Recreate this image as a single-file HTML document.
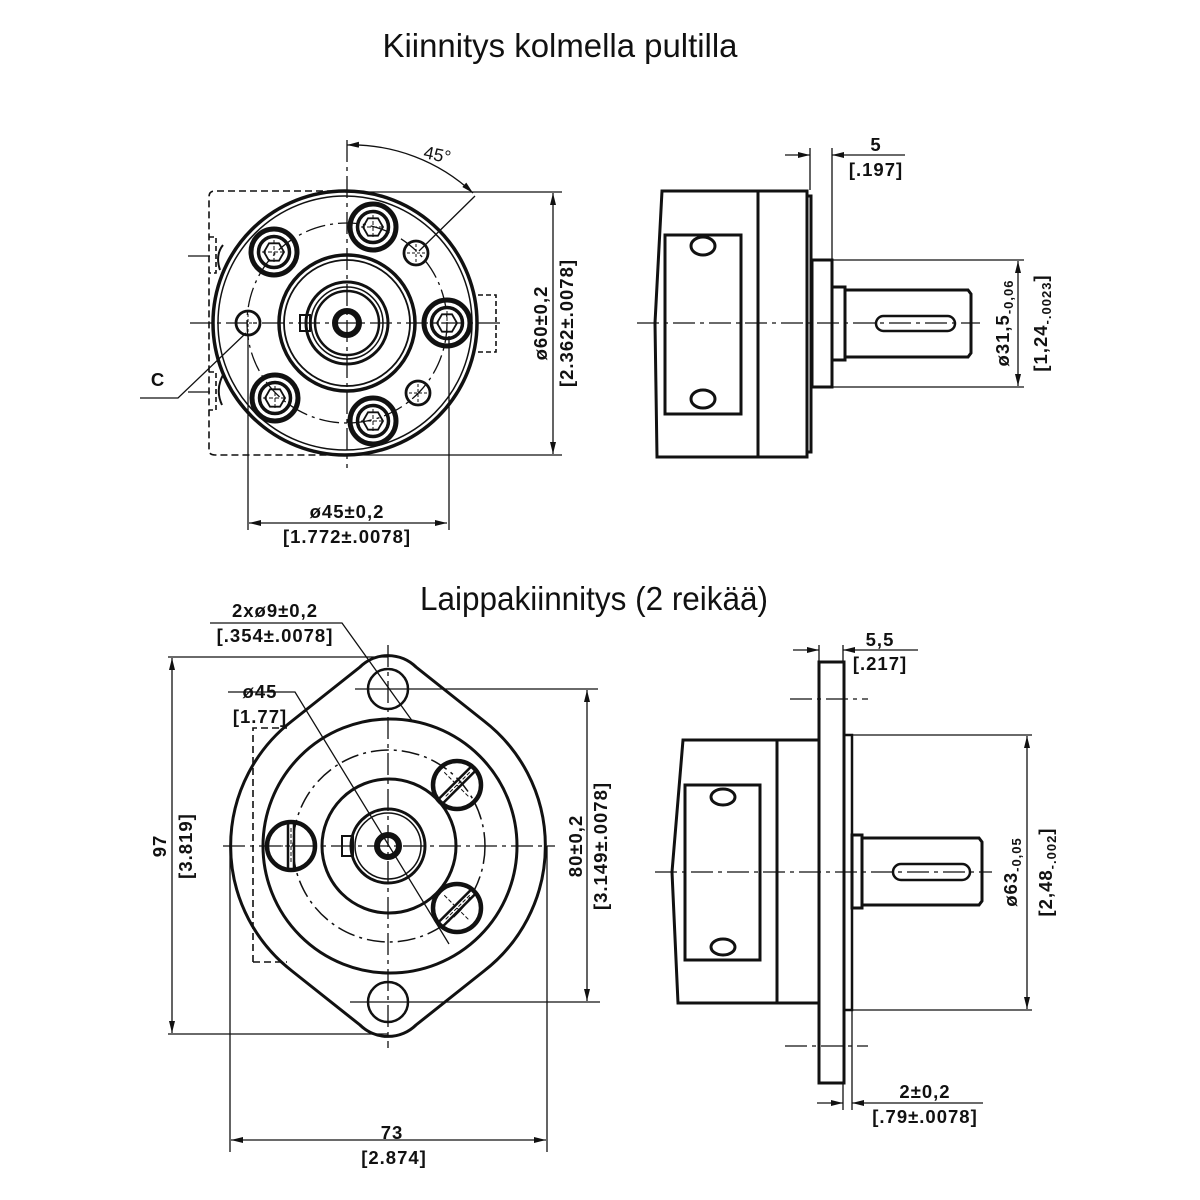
<!DOCTYPE html>
<html><head><meta charset="utf-8"><style>
html,body{margin:0;padding:0;background:#fff}
svg{display:block}
text{font-family:"Liberation Sans",sans-serif;fill:#111}
.d{font-size:18.5px;font-weight:bold;letter-spacing:1px}
</style></head><body>
<svg width="1200" height="1200" viewBox="0 0 1200 1200" xmlns="http://www.w3.org/2000/svg">
<defs>
<marker id="a" viewBox="0 0 12 6" refX="12" refY="3" markerWidth="12" markerHeight="6" orient="auto-start-reverse" markerUnits="userSpaceOnUse"><path d="M0,0 L12,3 L0,6 Z" fill="#111"/></marker>
<g id="bolt">
<circle r="23" fill="none" stroke="#111" stroke-width="5"/>
<circle r="15.5" fill="none" stroke="#111" stroke-width="3.5"/>
<polygon points="10,0 5,8.7 -5,8.7 -10,0 -5,-8.7 5,-8.7" fill="none" stroke="#111" stroke-width="1.8"/>
<path d="M-12,0H12M0,-12V12" stroke="#111" stroke-width="1" stroke-dasharray="4,2"/>
</g>
<g id="sbolt">
<circle r="12" fill="none" stroke="#111" stroke-width="2.8"/>
<path d="M-9,0H9M0,-9V9" stroke="#111" stroke-width="1" stroke-dasharray="3,2"/>
</g>
<g id="fbolt">
<circle r="24" fill="none" stroke="#111" stroke-width="4.5"/>
<path d="M-3,-23V23M3,-23V23" stroke="#111" stroke-width="2.5"/>
<path d="M-18,0H18M0,-18V18" stroke="#111" stroke-width="1" stroke-dasharray="4,2"/>
</g>
</defs>

<text x="560" y="57" font-size="33" text-anchor="middle" textLength="355" lengthAdjust="spacingAndGlyphs">Kiinnitys kolmella pultilla</text>
<text x="594" y="610" font-size="33" text-anchor="middle" textLength="348" lengthAdjust="spacingAndGlyphs">Laippakiinnitys (2 reikää)</text>

<!-- ================= TOP LEFT ================= -->
<g fill="none" stroke="#111">
<path d="M345,191 H215 Q209,191 209,197 V450 Q209,455 215,455 H345" stroke-width="1.6" stroke-dasharray="7,4"/>
<path d="M209,237 H216 V273 H209 M209,372 H216 V410 H209" stroke-width="1.6" stroke-dasharray="5,3"/>
<path d="M478,295 H496 V352 H478" stroke-width="1.6" stroke-dasharray="5,3"/>
<circle cx="345" cy="323" r="132" stroke-width="3.5"/>
<circle cx="345" cy="323" r="127" stroke-width="1.5"/>
<circle cx="347" cy="323" r="100" stroke-width="1.3" stroke-dasharray="20,5,3,5"/>
<circle cx="347" cy="323" r="68" stroke-width="3.5"/>
<circle cx="347" cy="323" r="63" stroke-width="1.8"/>
<circle cx="347" cy="323" r="41" stroke-width="3"/>
<circle cx="347" cy="323" r="36" stroke-width="1.5"/>
<circle cx="347" cy="323" r="32" stroke-width="2.5"/>
<circle cx="347" cy="323" r="12" stroke-width="6"/>
<rect x="300" y="315" width="10" height="16" stroke-width="2"/>
<path d="M223,245 Q215,255 220,270 M223,375 Q215,390 222,405" stroke-width="2"/>
</g>
<use href="#bolt" x="373" y="227"/>
<use href="#bolt" x="274" y="252"/>
<use href="#bolt" x="275" y="398"/>
<use href="#bolt" x="373" y="421"/>
<use href="#bolt" x="447" y="323"/>
<use href="#sbolt" x="416" y="253"/>
<use href="#sbolt" x="418" y="393"/>
<use href="#sbolt" x="248" y="323"/>
<g stroke="#111" fill="none" stroke-width="1.3">
<path d="M190,323 H505" stroke-dasharray="22,5,4,5"/>
<path d="M347,140 V468" stroke-dasharray="22,5,4,5"/>
<path d="M188,256 H210 M188,392 H210"/>
<path d="M347,145 A178,178 0 0 1 473,193" marker-start="url(#a)" marker-end="url(#a)"/>
<path d="M419,251 L475,196"/>
<path d="M140,398 H178 L246,333"/>
<path d="M345,192 H562 M345,455 H562"/>
<path d="M553,193 V454" marker-start="url(#a)" marker-end="url(#a)"/>
<path d="M248,336 V530 M449,336 V530"/>
<path d="M249,523 H447" marker-start="url(#a)" marker-end="url(#a)"/>
</g>
<text x="424" y="158" font-size="18" transform="rotate(12 424 152)">45°</text>
<text x="158" y="386" class="d" text-anchor="middle" font-size="21">C</text>
<text class="d" transform="translate(547,323) rotate(-90)" text-anchor="middle">ø60±0,2</text>
<text class="d" transform="translate(573,323) rotate(-90)" text-anchor="middle">[2.362±.0078]</text>
<text class="d" x="347" y="518" text-anchor="middle">ø45±0,2</text>
<text class="d" x="347" y="543" text-anchor="middle">[1.772±.0078]</text>

<!-- ================= TOP RIGHT ================= -->
<g fill="none" stroke="#111" stroke-width="3">
<path d="M662,191 H807 V457 H657 L655,323 Z"/>
<path d="M758,191 V457"/>
<path d="M808,196 H811 V452 H808"/>
<rect x="665" y="235" width="76" height="179"/>
<ellipse cx="703" cy="246" rx="12" ry="9"/>
<ellipse cx="703" cy="399" rx="12" ry="9"/>
<rect x="812" y="260" width="20" height="127"/>
<rect x="832" y="287" width="13" height="73"/>
<path d="M845,290 H968 L971,294 V353 L968,357 H845"/>
<rect x="876" y="316" width="79" height="15" rx="7.5" stroke-width="2.5"/>
</g>
<g stroke="#111" fill="none" stroke-width="1.3">
<path d="M637,323 H980" stroke-dasharray="22,5,4,5"/>
<path d="M810,148 V190 M832,148 V260"/>
<path d="M785,155 H810" marker-end="url(#a)"/>
<path d="M905,155 H832" marker-end="url(#a)"/>
<path d="M832,260 H1024 M832,387 H1024"/>
<path d="M1018,261 V386" marker-start="url(#a)" marker-end="url(#a)"/>
</g>
<text class="d" x="876" y="151" text-anchor="middle">5</text>
<text class="d" x="876" y="176" text-anchor="middle">[.197]</text>
<text class="d" transform="translate(1009,323) rotate(-90)" text-anchor="middle">ø31,5<tspan font-size="13" dy="4">-0,06</tspan></text>
<text class="d" transform="translate(1047,323) rotate(-90)" text-anchor="middle">[1,24<tspan font-size="13" dy="4">-.0023</tspan><tspan dy="-4">]</tspan></text>

<!-- ================= BOTTOM LEFT ================= -->
<g fill="none" stroke="#111">
<path d="M253,962 V728 H287" stroke-width="1.6" stroke-dasharray="7,4"/>
<path d="M253,962 H287" stroke-width="1.6" stroke-dasharray="7,4"/>
<path d="M292,721 A158,158 0 0 0 292,971 L360,1025 A40,40 0 0 0 416,1025 L484,971 A158,158 0 0 0 484,721 L416,667 A40,40 0 0 0 360,667 Z" stroke-width="3"/>
<circle cx="390" cy="846" r="127" stroke-width="3"/>
<circle cx="389" cy="846" r="96" stroke-width="1.5" stroke-dasharray="18,5,3,5"/>
<circle cx="389" cy="846" r="67" stroke-width="3"/>
<circle cx="388" cy="846" r="37" stroke-width="3"/>
<circle cx="388" cy="846" r="33" stroke-width="1.5"/>
<circle cx="388" cy="846" r="11" stroke-width="6"/>
<rect x="342" y="836" width="11" height="20" stroke-width="2"/>
<circle cx="388" cy="689" r="20" stroke-width="2.5"/>
<circle cx="388" cy="1002" r="20" stroke-width="2.5"/>
</g>
<use href="#fbolt" x="291" y="846"/>
<use href="#fbolt" x="457" y="785" transform="rotate(45 457 785)"/>
<use href="#fbolt" x="457" y="908" transform="rotate(45 457 908)"/>
<g stroke="#111" fill="none" stroke-width="1.3">
<path d="M223,846 H555" stroke-dasharray="22,5,4,5"/>
<path d="M388,645 V1048" stroke-dasharray="22,5,4,5"/>
<path d="M355,689 H598 M350,1002 H600"/>
<path d="M587,690 V1001" marker-start="url(#a)" marker-end="url(#a)"/>
<path d="M168,657 H388 M168,1034 H388"/>
<path d="M172,658 V1033" marker-start="url(#a)" marker-end="url(#a)"/>
<path d="M230,846 V1152 M547,846 V1152"/>
<path d="M231,1140 H546" marker-start="url(#a)" marker-end="url(#a)"/>
<path d="M210,623 H342 L413,722"/>
<path d="M228,692 H295 L449,944"/>
</g>
<text class="d" x="275" y="617" text-anchor="middle">2xø9±0,2</text>
<text class="d" x="275" y="642" text-anchor="middle">[.354±.0078]</text>
<text class="d" x="260" y="698" text-anchor="middle">ø45</text>
<text class="d" x="260" y="723" text-anchor="middle">[1.77]</text>
<text class="d" transform="translate(166,846) rotate(-90)" text-anchor="middle">97</text>
<text class="d" transform="translate(192,846) rotate(-90)" text-anchor="middle">[3.819]</text>
<text class="d" transform="translate(582,846) rotate(-90)" text-anchor="middle">80±0,2</text>
<text class="d" transform="translate(607,846) rotate(-90)" text-anchor="middle">[3.149±.0078]</text>
<text class="d" x="392" y="1139" text-anchor="middle">73</text>
<text class="d" x="394" y="1164" text-anchor="middle">[2.874]</text>

<!-- ================= BOTTOM RIGHT ================= -->
<g fill="none" stroke="#111" stroke-width="3">
<path d="M683,740 H819 V1003 H678 L672,872 Z"/>
<path d="M777,740 V1003"/>
<rect x="819" y="662" width="25" height="421"/>
<rect x="685" y="785" width="75" height="175"/>
<ellipse cx="723" cy="797" rx="12" ry="8"/>
<ellipse cx="723" cy="947" rx="12" ry="8"/>
<rect x="844" y="735" width="8" height="275" stroke-width="2.5"/>
<rect x="852" y="835" width="10" height="73"/>
<path d="M862,838 H979 L982,842 V901 L979,905 H862"/>
<rect x="893" y="864" width="77" height="16" rx="8" stroke-width="2.5"/>
</g>
<g stroke="#111" fill="none" stroke-width="1.3">
<path d="M655,872 H992" stroke-dasharray="22,5,4,5"/>
<path d="M790,699 H868 M785,1046 H868" stroke-dasharray="22,5,4,5"/>
<path d="M819,645 V662 M843,645 V662"/>
<path d="M793,650 H819" marker-end="url(#a)"/>
<path d="M918,650 H843" marker-end="url(#a)"/>
<path d="M852,735 H1032 M852,1010 H1032"/>
<path d="M1027,736 V1009" marker-start="url(#a)" marker-end="url(#a)"/>
<path d="M843,1083 V1110 M852,1010 V1110"/>
<path d="M817,1103 H843" marker-end="url(#a)"/>
<path d="M983,1103 H852" marker-end="url(#a)"/>
</g>
<text class="d" x="880" y="646" text-anchor="middle">5,5</text>
<text class="d" x="880" y="670" text-anchor="middle">[.217]</text>
<text class="d" transform="translate(1017,872) rotate(-90)" text-anchor="middle">ø63<tspan font-size="13" dy="4">-0,05</tspan></text>
<text class="d" transform="translate(1052,872) rotate(-90)" text-anchor="middle">[2,48<tspan font-size="13" dy="4">-.002</tspan><tspan dy="-4">]</tspan></text>
<text class="d" x="925" y="1098" text-anchor="middle">2±0,2</text>
<text class="d" x="925" y="1123" text-anchor="middle">[.79±.0078]</text>
</svg>
</body></html>
